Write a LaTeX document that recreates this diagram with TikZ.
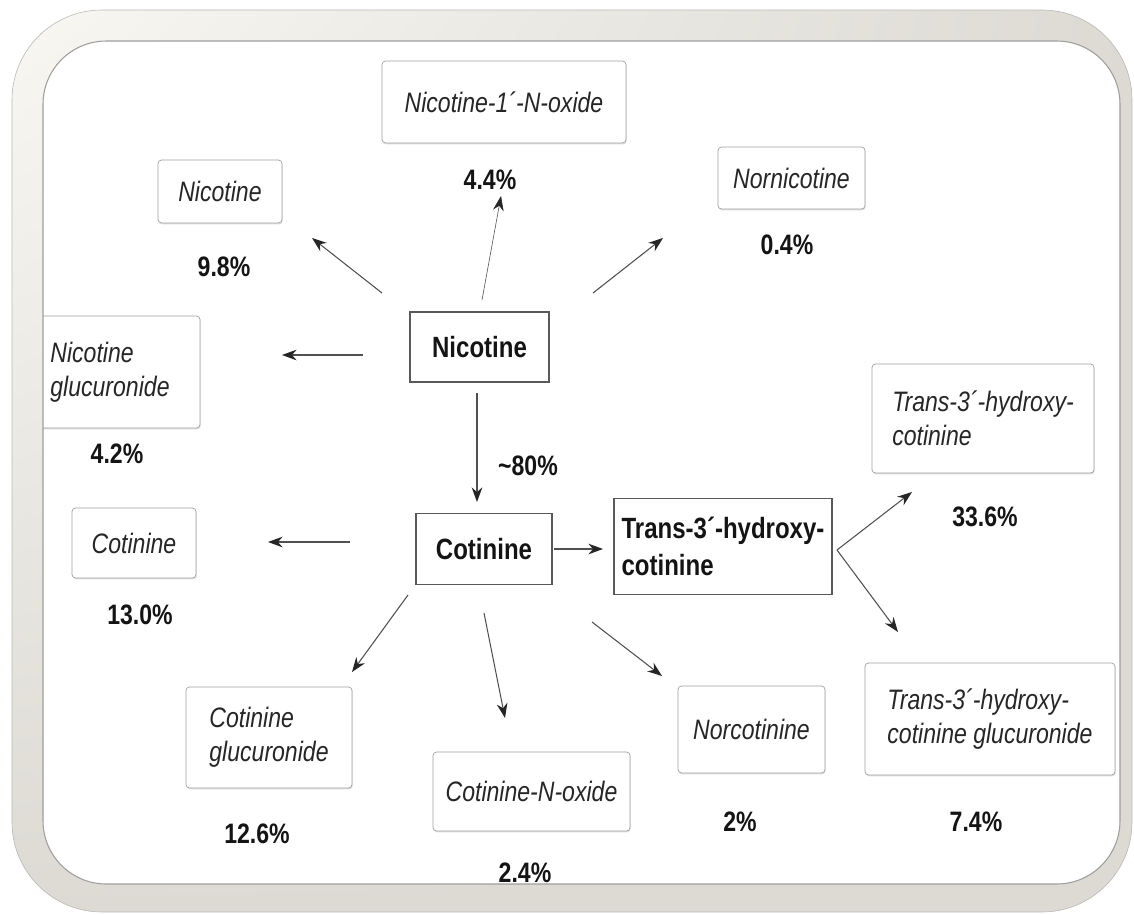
\documentclass[tikz,border=0pt]{standalone}
\usepackage{fontspec}
\setmainfont{Liberation Sans}[FakeStretch=0.82]
\usetikzlibrary{arrows.meta,shadows,shadings}
\definecolor{frameC}{HTML}{DCDAD3}
\definecolor{frameL}{HTML}{F8F7F2}
\definecolor{boxline}{HTML}{A0A0A0}
\definecolor{arrC}{HTML}{505050}
\definecolor{txtI}{HTML}{262626}
\definecolor{txtB}{HTML}{141414}
\begin{document}
\begin{tikzpicture}[x=0.03cm,y=-0.03cm,
  sz/.style 2 args={minimum width={#1*0.03cm}, minimum height={#2*0.03cm}},
  ibox/.style={draw=boxline, line width=0.6pt, rounded corners=3pt, fill=white,
    font=\fontsize{24}{29}\selectfont\itshape, text=txtI, align=left, inner sep=0pt,
    drop shadow={shadow xshift=0.6pt, shadow yshift=-1.2pt, opacity=0.25}},
  mbox/.style={draw=black!65, line width=1.2pt, fill=white,
    font=\fontsize{25}{31}\selectfont\bfseries, text=txtB, align=left, inner sep=0pt},
  pct/.style={font=\fontsize{24}{29}\selectfont\bfseries, text=txtB, inner sep=0pt},
  arr/.style={draw=arrC, line width=0.9pt, -{Stealth[length=0.44cm,width=0.32cm,color=black!85]}},
  thinarr/.style={arr, line width=0.5pt}
]
\useasboundingbox (0,0) rectangle (1134,915);
\fill[white] (0,0) rectangle (1134,915);

% ---- nodes ----
\node[ibox, sz={244}{82}] (nox) at (504,102) {Nicotine-1´-N-oxide};
\node[pct] (pnox) at (490,180) {4.4\%};
\node[ibox, sz={124}{63}] (nicI) at (220,191.5) {Nicotine};
\node[pct] (pnicI) at (224,267) {9.8\%};
\node[ibox, sz={147}{62}] (nornic) at (791.5,178) {Nornicotine};
\node[pct] (pnornic) at (787,245) {0.4\%};
\node[ibox, sz={180}{112}] (nicG) at (110,372) {Nicotine\\glucuronide};
\node[pct] (pnicG) at (117,454) {4.2\%};
\node[mbox, sz={139}{70}] (nic) at (479.5,347) {Nicotine};
\node[pct] (p80) at (528,466) {\textasciitilde 80\%};
\node[ibox, sz={222}{109}] (tI) at (983,418.5) {Trans-3´-hydroxy-\\cotinine};
\node[pct] (ptI) at (985,517) {33.6\%};
\node[mbox, sz={136}{71}] (cot) at (484,549) {Cotinine};
\node[mbox, sz={218}{96}] (tB) at (723,546.5) {Trans-3´-hydroxy-\\cotinine};
\node[ibox, sz={124}{70}] (cotI) at (134,543) {Cotinine};
\node[pct] (pcotI) at (140,615) {13.0\%};
\node[ibox, sz={166}{101}] (cotG) at (269,737.5) {Cotinine\\glucuronide};
\node[pct] (pcotG) at (257,834) {12.6\%};
\node[ibox, sz={197}{79}] (cno) at (531.5,791.5) {Cotinine-N-oxide};
\node[pct] (pcno) at (525,873) {2.4\%};
\node[ibox, sz={147}{87}] (norc) at (751.5,729.5) {Norcotinine};
\node[pct] (pnorc) at (740,822) {2\%};
\node[ibox, sz={250}{112}] (tG) at (990,719) {Trans-3´-hydroxy-\\cotinine glucuronide};
\node[pct] (ptG) at (976,822) {7.4\%};

% ---- arrow end points ----
\coordinate (s1) at (382,293);  \coordinate (e1) at (312,238);
\coordinate (s2) at (482,300);  \coordinate (e2) at (501,196);
\coordinate (s3) at (593,293);  \coordinate (e3) at (663,238);
\coordinate (s4) at (363,355);  \coordinate (e4) at (282,355);
\coordinate (s5) at (477,393);  \coordinate (e5) at (477,502);
\coordinate (s6) at (350,542);  \coordinate (e6) at (268,542);
\coordinate (s7) at (554,549);  \coordinate (e7) at (603,549);
\coordinate (sb) at (837,550);
\coordinate (e8) at (912,492);  \coordinate (e9) at (898,632);
\coordinate (s10) at (408,595); \coordinate (e10) at (352,672);
\coordinate (s11) at (484,613); \coordinate (e11) at (505,718);
\coordinate (s12) at (592,622); \coordinate (e12) at (662,676);

\draw[arr] (s1) -- (e1);
\draw[thinarr] (s2) -- (e2);
\draw[arr] (s3) -- (e3);
\draw[arr] (s4) -- (e4);
\draw[arr] (s5) -- (e5);
\draw[arr] (s6) -- (e6);
\draw[arr] (s7) -- (e7);
\draw[arr] (sb) -- (e8);
\draw[arr] (sb) -- (e9);
\draw[arr] (s10) -- (e10);
\draw[arr] (s11) -- (e11);
\draw[arr] (s12) -- (e12);

% ---- frame ----
\shade[even odd rule, upper left=frameL, upper right=frameC, lower left=frameC, lower right=frameC]
  (12,10) [rounded corners=2.7cm] rectangle (1132,912)
  (43,41) [rounded corners=1.9cm] rectangle (1120,884);
\draw[gray!55, line width=0.5pt] (12,10) [rounded corners=2.7cm] rectangle (1132,912);
\draw[gray!75, line width=0.9pt] (43,41) [rounded corners=1.9cm] rectangle (1120,884);
\end{tikzpicture}
\end{document}
